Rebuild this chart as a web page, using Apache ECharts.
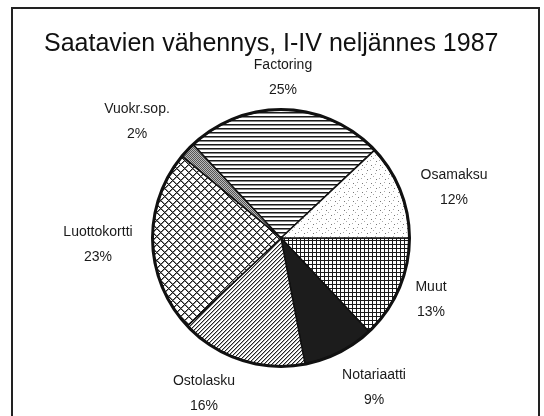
<!DOCTYPE html>
<html>
<head>
<meta charset="utf-8">
<script src="https://cdn.jsdelivr.net/npm/echarts@6/dist/echarts.min.js"></script>
<style>
html,body{margin:0;padding:0;background:#fff;}
#chart{width:544px;height:416px;}
</style>
</head>
<body>
<div id="chart"></div>
<script>
// ---- data ----
const titleText = 'Saatavien vähennys, I-IV neljännes 1987';
const categories = ['Muut', 'Notariaatti', 'Ostolasku', 'Luottokortti', 'Vuokr.sop.', 'Factoring', 'Osamaksu'];
const shares = [13, 9, 16, 23, 2, 25, 12];

// ---- label block centres (layout only) ----
const labelPos = [
  [431, 300], [374, 388], [204, 394], [98, 245], [137, 122], [283, 78], [454, 188]
];

// ---- patterns ----
function pat(w, h, draw) {
  const c = document.createElement('canvas');
  c.width = w; c.height = h;
  const g = c.getContext('2d');
  g.fillStyle = '#fff'; g.fillRect(0, 0, w, h);
  draw(g);
  return { image: c, repeat: 'repeat' };
}
const fills = {
  'Muut': pat(4, 4, g => { g.fillStyle = '#1a1a1a'; g.fillRect(0, 0, 4, 1); g.fillRect(0, 0, 1, 4); }),
  'Notariaatti': '#1c1c1c',
  'Ostolasku': pat(4, 4, g => { g.fillStyle = '#222'; for (let i = 0; i < 4; i++) g.fillRect(3 - i, i, 1, 1); g.fillStyle = '#aaa'; for (let i = 0; i < 4; i++) g.fillRect((4 - i) % 4, i, 1, 1); }),
  'Luottokortti': pat(8, 8, g => {
    for (let y = 0; y < 8; y++) for (let x = 0; x < 8; x++) {
      if ((x + y) % 8 === 0 || (x - y + 8) % 8 === 0) { g.fillStyle = '#1a1a1a'; g.fillRect(x, y, 1, 1); }
      else if ((x + y) % 8 === 1 || (x - y + 8) % 8 === 1) { g.fillStyle = '#888'; g.fillRect(x, y, 1, 1); }
    }
  }),
  'Vuokr.sop.': pat(2, 2, g => { g.fillStyle = '#bbb'; g.fillRect(0, 0, 2, 2); g.fillStyle = '#555'; g.fillRect(0, 0, 1, 1); g.fillRect(1, 1, 1, 1); }),
  'Factoring': pat(4, 4, g => { g.fillStyle = '#1a1a1a'; g.fillRect(0, 0, 4, 1); g.fillStyle = '#888'; g.fillRect(0, 1, 4, 1); }),
  'Osamaksu': pat(9, 9, g => { g.fillStyle = '#777'; g.fillRect(2, 3, 1, 1); g.fillRect(7, 8, 1, 1); g.fillStyle = '#aaa'; g.fillRect(6, 2, 1, 1); g.fillRect(1, 7, 1, 1); g.fillRect(4, 5, 1, 1); })
};

const chart = echarts.init(document.getElementById('chart'), null, { renderer: 'canvas' });
const font = '"Liberation Sans", Arial, Helvetica, sans-serif';

chart.setOption({
  animation: false,
  backgroundColor: '#fff',
  title: {
    text: titleText,
    left: 39,
    top: 27,
    textStyle: { fontFamily: font, fontSize: 25, fontWeight: 'normal', color: '#111' }
  },
  graphic: [{
    type: 'rect',
    shape: { x: 12, y: 8, width: 527, height: 430 },
    style: { fill: 'none', stroke: '#222', lineWidth: 2 },
    silent: true
  }],
  series: [{
    type: 'pie',
    center: [281, 238],
    radius: 128,
    startAngle: 0,
    clockwise: true,
    silent: true,
    data: categories.map((c, i) => ({
      name: c, value: shares[i],
      itemStyle: { color: fills[c] }
    })),
    itemStyle: { borderColor: '#111', borderWidth: 1.5 },
    label: {
      show: true,
      position: 'outside',
      formatter: '{b}\n{c}%',
      fontFamily: font,
      fontSize: 14,
      lineHeight: 25,
      color: '#1a1a1a',
      align: 'center'
    },
    labelLine: { show: false },
    labelLayout: function (p) {
      const q = labelPos[p.dataIndex];
      return { x: q[0], y: q[1], align: 'center', verticalAlign: 'middle' };
    }
  }, {
    type: 'pie',
    center: [281, 238],
    radius: [127, 130],
    silent: true,
    label: { show: false },
    labelLine: { show: false },
    data: [{ value: 1, itemStyle: { color: '#111' } }]
  }]
});
</script>
</body>
</html>
